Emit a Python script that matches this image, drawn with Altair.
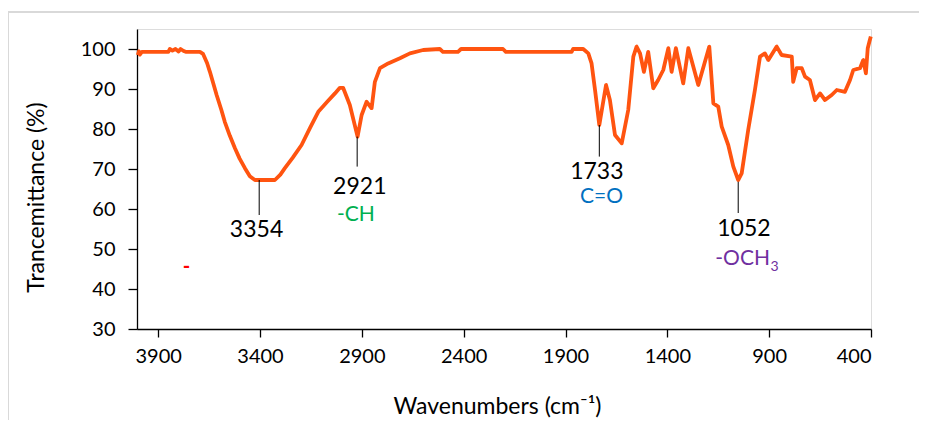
import altair as alt
import pandas as pd

# ---- spectrum ----
wavenumber = [4000, 3995, 3990, 3980, 3941, 3850, 3843, 3830, 3815, 3800, 3790, 3775, 3765,
              3695, 3680, 3660, 3646, 3630, 3613, 3590, 3573, 3548, 3523, 3500, 3474, 3450,
              3425, 3327, 3300, 3278, 3240, 3196, 3155, 3114, 3070, 3032, 3008, 2992, 2959,
              2921, 2901, 2877, 2852, 2836, 2811, 2771, 2713, 2664,
              2599, 2517, 2502, 2428, 2413, 2207, 2193, 1870, 1863, 1813, 1788, 1772, 1755,
              1734, 1701, 1682, 1657, 1624, 1592, 1567, 1551, 1534, 1515, 1494, 1469, 1445,
              1420, 1395, 1379, 1358, 1322, 1297, 1248, 1194, 1174, 1150, 1133, 1101, 1076,
              1052, 1035, 1003, 970, 945, 921, 904, 863, 839, 789, 782, 765, 740, 724, 700,
              675, 650, 626, 593, 568, 528, 503, 487, 454, 438, 425, 416, 408, 401]
transmittance = [98.5, 99.4, 98.6, 99.3, 99.3, 99.3, 100, 99.6, 100, 99.4, 100, 99.5, 99.3,
                 99.3, 98.8, 96.5, 94.3, 91.5, 88.5, 84.8, 81.8, 78.3, 75.2, 72.6, 70.2, 68.2,
                 67.25, 67.25, 68.6, 70.2, 72.8, 76, 80.2, 84.3, 86.8, 88.9, 90.3, 90.3, 86,
                 78.1, 83.5, 86.8, 85.2, 91.8, 95.2, 96.4, 97.7, 98.9,
                 99.75, 100, 99.3, 99.3, 100, 100, 99.3, 99.3, 100, 100, 98.9, 96.4, 89.75,
                 81, 91, 87.25, 78.5, 76.4, 84.75, 98.1, 100.6, 98.9, 94.3, 99.3, 90.2, 92.25,
                 94.75, 100.2, 94.3, 100.2, 91.4, 100.2, 91, 100.6, 86.4, 85.6, 80.6, 76, 70.6,
                 67.25, 68.9, 79.75, 89.75, 98.1, 98.9, 97.25, 100.6, 98.5, 98.1, 91.8, 95.2,
                 95.2, 93.1, 92.25, 87.25, 88.9, 87.25, 88.5, 89.75, 89.3, 92.25, 94.75, 95.2,
                 97.25, 93.9, 100.2, 101.8, 103.1]

x_ticks = [3900, 3400, 2900, 2400, 1900, 1400, 900, 400]
y_ticks = [30, 40, 50, 60, 70, 80, 90, 100]

# ---- peak annotations ----
peak_line_x = [3404, 2923, 1734, 1052]
peak_line_top = [67.25, 78.1, 81.0, 66.8]
peak_line_bottom = [58.5, 70.6, 73.1, 59.0]
peak_label = ["3354", "2921", "1733", "1052"]
peak_label_x = [3417, 2910, 1746, 1024]
peak_label_y = [54.75, 65.6, 69.2, 55.0]

group_label = ["-CH", "C=O", "-OCH"]
group_x = [2929, 1723, 896]
group_y = [58.5, 62.9, 47.5]
group_align = ["center", "center", "right"]
group_color = ["#00B050", "#0070C0", "#7030A0"]

sub_label = ["3"]
sub_x = [893]
sub_y = [45.6]

dash_label = ["-"]
dash_x = [3761]
dash_y = [45.4]

FONT = "Lato"
W, H = 734, 300

spec = pd.DataFrame({"wn": wavenumber, "t": transmittance})
peaks = pd.DataFrame({"x": peak_line_x, "y1": peak_line_top, "y2": peak_line_bottom,
                      "lab": peak_label, "lx": peak_label_x, "ly": peak_label_y})
groups = pd.DataFrame({"lab": group_label, "x": group_x, "y": group_y,
                       "align": group_align, "c": group_color})
subs = pd.DataFrame({"lab": sub_label, "x": sub_x, "y": sub_y})
dash = pd.DataFrame({"lab": dash_label, "x": dash_x, "y": dash_y})

xs = alt.Scale(domain=[400, 4004], reverse=True, nice=False, zero=False)
ys = alt.Scale(domain=[30, 105], nice=False, zero=False)

x_axis = alt.Axis(values=x_ticks, format="d", grid=False, title="Wavenumbers (cm⁻¹)",
                  domainColor="black", domainWidth=1.3, tickColor="black", tickSize=8,
                  tickWidth=1.3, labelFont=FONT, labelFontSize=20, labelColor="black",
                  labelPadding=9, titleFont=FONT, titleFontSize=23, titleFontWeight="normal",
                  titleColor="black", titleX=360, titleY=77, titleBaseline="middle",
                  titleAlign="center")
y_axis = alt.Axis(values=y_ticks, format="d", grid=False, title="Trancemittance (%)",
                  domainColor="black", domainWidth=1.3, tickColor="black", tickSize=9,
                  tickWidth=1.3, labelFont=FONT, labelFontSize=20, labelColor="black",
                  labelPadding=13, titleFont=FONT, titleFontSize=23, titleFontWeight="normal",
                  titleColor="black", titleX=-101, titleY=168, titleAngle=270,
                  titleBaseline="middle", titleAlign="center")

frame_top = alt.Chart(spec).mark_rule(color="#D9D9D9", strokeWidth=1.5).encode(
    x=alt.value(-129), x2=alt.value(W + 60), y=alt.value(-17))
frame_left = alt.Chart(spec).mark_rule(color="#D9D9D9", strokeWidth=1.5).encode(
    x=alt.value(-129), y=alt.value(-17), y2=alt.value(H + 100))

line = alt.Chart(spec).mark_line(color="#FF5410", strokeWidth=3.8, strokeJoin="round").encode(
    x=alt.X("wn:Q", scale=xs, axis=x_axis),
    y=alt.Y("t:Q", scale=ys, axis=y_axis),
    order="wn:Q",
)

rules = alt.Chart(peaks).mark_rule(color="black", strokeWidth=1).encode(
    x=alt.X("x:Q", scale=xs), y=alt.Y("y1:Q", scale=ys), y2="y2:Q")

nums = alt.Chart(peaks).mark_text(font=FONT, fontSize=23, color="black",
                                  baseline="middle", align="center").encode(
    x=alt.X("lx:Q", scale=xs), y=alt.Y("ly:Q", scale=ys), text="lab:N")

grp_c = alt.Chart(groups[groups["align"] == "center"]).mark_text(
    font=FONT, fontSize=21, baseline="middle", align="center").encode(
    x=alt.X("x:Q", scale=xs), y=alt.Y("y:Q", scale=ys), text="lab:N",
    color=alt.Color("c:N", scale=None))
grp_r = alt.Chart(groups[groups["align"] == "right"]).mark_text(
    font=FONT, fontSize=21, baseline="middle", align="right").encode(
    x=alt.X("x:Q", scale=xs), y=alt.Y("y:Q", scale=ys), text="lab:N",
    color=alt.Color("c:N", scale=None))
sub = alt.Chart(subs).mark_text(font=FONT, fontSize=14, baseline="middle", align="left",
                                color="#7030A0").encode(
    x=alt.X("x:Q", scale=xs), y=alt.Y("y:Q", scale=ys), text="lab:N")
red = alt.Chart(dash).mark_text(font=FONT, fontSize=20, fontWeight="bold", baseline="middle",
                                align="center", color="#FF0000").encode(
    x=alt.X("x:Q", scale=xs), y=alt.Y("y:Q", scale=ys), text="lab:N")

chart = alt.layer(frame_top, frame_left, line, rules, nums, grp_c, grp_r, sub, red).properties(
    width=W, height=H,
    autosize=alt.AutoSizeParams(type="none"),
    padding={"left": 129, "top": 21, "right": 48, "bottom": 91},
).configure_view(stroke=None).configure(background="white")

chart.save("out.html", embed_options={"renderer": "svg", "actions": False})
